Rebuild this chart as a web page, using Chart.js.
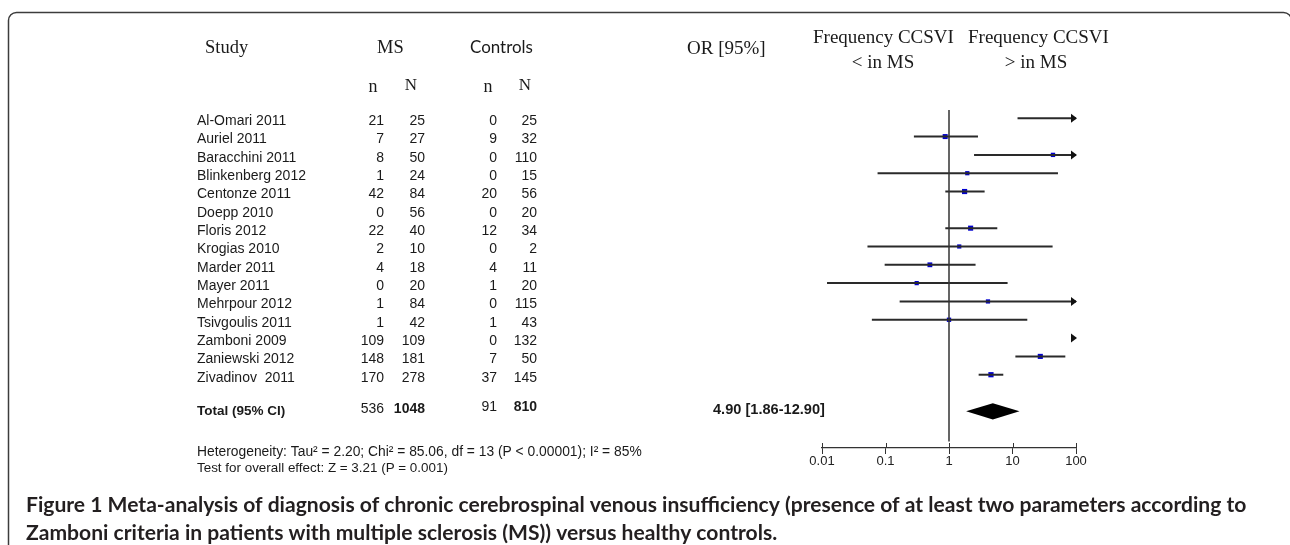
<!DOCTYPE html>
<html>
<head>
<meta charset="utf-8">
<script src="https://cdn.jsdelivr.net/npm/chart.js@4.4.0/dist/chart.umd.min.js"></script>
<style>
    html, body { margin: 0; padding: 0; background: #fff; }
    #wrap { position: relative; width: 1290px; height: 545px; overflow: hidden; }
</style>
</head>
<body>
<div id="wrap"><canvas id="forest" width="1290" height="545"></canvas></div>
<script>
// -------------------------- data ----------------------------
const studies = ['Al-Omari 2011', 'Auriel 2011', 'Baracchini 2011', 'Blinkenberg 2012', 'Centonze 2011',
    'Doepp 2010', 'Floris 2012', 'Krogias 2010', 'Marder 2011', 'Mayer 2011', 'Mehrpour 2012',
    'Tsivgoulis 2011', 'Zamboni 2009', 'Zaniewski 2012', 'Zivadinov  2011'];
const msEvents   = [21, 7, 8, 1, 42, 0, 22, 2, 4, 0, 1, 1, 109, 148, 170];
const msTotal    = [25, 27, 50, 24, 84, 56, 40, 10, 18, 20, 84, 42, 109, 181, 278];
const ctrlEvents = [0, 9, 0, 0, 20, 0, 12, 0, 4, 1, 0, 1, 0, 7, 37];
const ctrlTotal  = [25, 32, 110, 15, 56, 20, 34, 2, 11, 20, 115, 43, 132, 50, 145];
// odds ratios and 95% CI (values past 100 run off the axis)
const oddsRatio = [243, 0.87, 43.4, 1.94, 1.76, null, 2.19, 1.45, 0.50, 0.31, 4.11, 1.0, 5000, 27.4, 4.58];
const ciLow     = [12, 0.28, 2.48, 0.075, 0.875, null, 0.875, 0.052, 0.097, 0.012, 0.167, 0.061, 250, 11.1, 2.93];
const ciHigh    = [4900, 2.86, 760, 52, 3.64, null, 5.76, 42.8, 2.62, 8.37, 102, 17.1, 100000, 67.9, 7.16];

const totalMs = [536, 1048];
const totalCtrl = [91, 810];
const pooled = [4.90, 1.86, 12.90]; // OR, low, high
const tau2 = 2.20;
const xTicks = [0.01, 0.1, 1, 10, 100];

const heterogeneity = 'Heterogeneity: Tau\u00b2 = 2.20; Chi\u00b2 = 85.06, df = 13 (P < 0.00001); I\u00b2 = 85%';
const overallEffect = 'Test for overall effect: Z = 3.21 (P = 0.001)';
const captionLines = [
    'Figure 1 Meta-analysis of diagnosis of chronic cerebrospinal venous insufficiency (presence of at least two parameters according to',
    'Zamboni criteria in patients with multiple sclerosis (MS)) versus healthy controls.'
];

const totalRow = studies.length + 1;
const xMax = 100;

// -------------------------- helpers ----------------------------
function fitFont(ctx, text, width, weight, family) {
    ctx.font = `${weight} 20px ${family}`;
    const size = 20 * width / ctx.measureText(text).width;
    ctx.font = `${weight} ${size.toFixed(2)}px ${family}`;
}

function text(ctx, str, x, y, font, align) {
    ctx.font = font;
    ctx.textAlign = align || 'left';
    ctx.fillText(str, x, y);
}

// random-effects weight, used for the box size like RevMan does
function weight(i) {
    const se = (Math.log(ciHigh[i]) - Math.log(ciLow[i])) / 3.92;
    return 1 / (se * se + tau2);
}

// -------------------------- datasets ----------------------------
const whiskers = [];
studies.forEach((s, i) => {
    if (ciLow[i] === null || ciLow[i] >= xMax) return;
    whiskers.push({
        type: 'line',
        data: [{ x: ciLow[i], y: i }, { x: Math.min(ciHigh[i], xMax), y: i }],
        borderColor: '#2a2a2a',
        borderWidth: 2,
        pointRadius: 0
    });
});

const points = [];
const boxRadius = [];
let maxW = 0;
studies.forEach((s, i) => { if (ciLow[i] !== null) maxW = Math.max(maxW, weight(i)); });
studies.forEach((s, i) => {
    if (oddsRatio[i] !== null && oddsRatio[i] <= xMax) {
        points.push({ x: oddsRatio[i], y: i });
        boxRadius.push(2.4 + 1.3 * weight(i) / maxW);
    }
});

// -------------------------- plugins ----------------------------
const framePlugin = {
    id: 'frame',
    beforeDraw(chart) {
        const ctx = chart.ctx;
        ctx.save();
        ctx.fillStyle = '#fff';
        ctx.fillRect(0, 0, chart.width, chart.height);
        ctx.strokeStyle = '#3c3c3c';
        ctx.lineWidth = 1.5;
        ctx.beginPath();
        ctx.roundRect(8.5, 12.5, 1283, 560, 8);
        ctx.stroke();
        ctx.restore();
    }
};

const forestPlugin = {
    id: 'forest',
    afterDatasetsDraw(chart) {
        const ctx = chart.ctx;
        const xs = chart.scales.x, ys = chart.scales.y;
        const bottom = chart.chartArea.bottom;
        ctx.save();
        // upper half of the axis ticks
        ctx.strokeStyle = '#333';
        ctx.lineWidth = 1;
        xTicks.forEach(v => {
            const px = Math.round(xs.getPixelForValue(v)) + 0.5;
            ctx.beginPath();
            ctx.moveTo(px, bottom - 5);
            ctx.lineTo(px, bottom);
            ctx.stroke();
        });
        // arrow heads for intervals that leave the axis
        ctx.fillStyle = '#111';
        studies.forEach((s, i) => {
            if (ciHigh[i] === null || ciHigh[i] <= xMax) return;
            const tip = xs.getPixelForValue(xMax) + 1;
            const y = ys.getPixelForValue(i);
            ctx.beginPath();
            ctx.moveTo(tip, y);
            ctx.lineTo(tip - 6, y - 4.5);
            ctx.lineTo(tip - 6, y + 4.5);
            ctx.closePath();
            ctx.fill();
        });
        // pooled diamond
        const yc = ys.getPixelForValue(totalRow);
        const half = Math.abs(ys.getPixelForValue(totalRow + 0.44) - yc);
        ctx.fillStyle = '#000';
        ctx.beginPath();
        ctx.moveTo(xs.getPixelForValue(pooled[1]), yc);
        ctx.lineTo(xs.getPixelForValue(pooled[0]), yc - half);
        ctx.lineTo(xs.getPixelForValue(pooled[2]), yc);
        ctx.lineTo(xs.getPixelForValue(pooled[0]), yc + half);
        ctx.closePath();
        ctx.fill();
        ctx.restore();
    }
};

const tablePlugin = {
    id: 'table',
    afterDraw(chart) {
        const ctx = chart.ctx;
        const ys = chart.scales.y;
        const serif = "'Liberation Serif', serif";
        const sans = "'Liberation Sans', Arial, sans-serif";
        ctx.save();
        ctx.fillStyle = '#1a1a1a';
        ctx.textBaseline = 'middle';

        // headers
        text(ctx, 'Study', 205, 48, `18.5px ${serif}`);
        text(ctx, 'MS', 377, 48, `18.5px ${serif}`);
        fitFont(ctx, 'Controls', 63, 'normal', "Lato, sans-serif");
        ctx.textAlign = 'left';
        ctx.fillText('Controls', 470, 48);
        text(ctx, 'n', 373, 87, `18px ${serif}`, 'center');
        text(ctx, 'N', 411, 86, `17px ${serif}`, 'center');
        text(ctx, 'n', 488, 87, `18px ${serif}`, 'center');
        text(ctx, 'N', 525, 86, `17px ${serif}`, 'center');
        text(ctx, 'OR [95%]', 687, 49, `19px ${serif}`);
        text(ctx, 'Frequency CCSVI', 813, 38, `19px ${serif}`);
        text(ctx, '< in MS', 883, 63, `19px ${serif}`, 'center');
        text(ctx, 'Frequency CCSVI', 968, 38, `19px ${serif}`);
        text(ctx, '> in MS', 1036, 63, `19px ${serif}`, 'center');

        // study rows
        studies.forEach((s, i) => {
            const y = ys.getPixelForValue(i) + 3;
            text(ctx, s, 197, y, `14px ${sans}`);
            text(ctx, String(msEvents[i]), 384, y, `14px ${sans}`, 'right');
            text(ctx, String(msTotal[i]), 425, y, `14px ${sans}`, 'right');
            text(ctx, String(ctrlEvents[i]), 497, y, `14px ${sans}`, 'right');
            text(ctx, String(ctrlTotal[i]), 537, y, `14px ${sans}`, 'right');
        });

        // total row
        const yt = ys.getPixelForValue(totalRow);
        text(ctx, 'Total (95% CI)', 197, yt, `bold 13.5px ${sans}`);
        text(ctx, String(totalMs[0]), 384, yt - 2, `14px ${sans}`, 'right');
        text(ctx, String(totalMs[1]), 425, yt - 2, `bold 14px ${sans}`, 'right');
        text(ctx, String(totalCtrl[0]), 497, yt - 4, `14px ${sans}`, 'right');
        text(ctx, String(totalCtrl[1]), 537, yt - 4, `bold 14px ${sans}`, 'right');
        const pooledText = `${pooled[0].toFixed(2)} [${pooled[1].toFixed(2)}-${pooled[2].toFixed(2)}]`;
        fitFont(ctx, pooledText, 112, 'bold', sans);
        ctx.textAlign = 'left';
        ctx.fillText(pooledText, 713, yt - 1);

        // statistics
        fitFont(ctx, heterogeneity, 445, 'normal', sans);
        ctx.fillText(heterogeneity, 197, 452);
        fitFont(ctx, overallEffect, 251, 'normal', sans);
        ctx.fillText(overallEffect, 197, 468);

        // caption
        ctx.fillStyle = '#231f20';
        fitFont(ctx, captionLines[0], 1221, 'bold', "Lato, sans-serif");
        ctx.fillText(captionLines[0], 26, 505);
        ctx.fillText(captionLines[1], 26, 533);
        ctx.restore();
    }
};

// -------------------------- chart ----------------------------
const config = {
    type: 'scatter',
    data: {
        datasets: [
            {
                type: 'line',
                data: [{ x: 1, y: -0.45 }, { x: 1, y: 17.65 }],
                borderColor: '#333',
                borderWidth: 1.5,
                pointRadius: 0
            },
            ...whiskers,
            {
                data: points,
                pointStyle: 'rect',
                pointRadius: ctx => boxRadius[ctx.dataIndex],
                backgroundColor: '#0000d0',
                borderColor: '#0000d0',
                borderWidth: 0
            }
        ]
    },
    options: {
        responsive: false,
        devicePixelRatio: 1,
        animation: false,
        layout: { padding: { left: 822, right: 214, top: 110, bottom: 67 } },
        plugins: {
            legend: { display: false },
            tooltip: { enabled: false }
        },
        scales: {
            x: {
                type: 'logarithmic',
                min: 0.01,
                max: 100,
                afterBuildTicks: s => { s.ticks = xTicks.map(v => ({ value: v })); },
                afterFit: s => { s.height = 30; },
                ticks: {
                    callback: v => String(v),
                    font: { family: "'Liberation Sans', Arial, sans-serif", size: 13 },
                    color: '#222',
                    padding: 0,
                    maxRotation: 0,
                    autoSkip: false
                },
                grid: { drawOnChartArea: false, drawTicks: true, tickLength: 6, color: '#333', lineWidth: 1 },
                border: { display: true, color: '#333', width: 1.2 }
            },
            y: {
                type: 'linear',
                reverse: true,
                min: -0.45,
                max: 18,
                display: false
            }
        }
    },
    plugins: [framePlugin, forestPlugin, tablePlugin]
};

new Chart(document.getElementById('forest'), config);
</script>
</body>
</html>
